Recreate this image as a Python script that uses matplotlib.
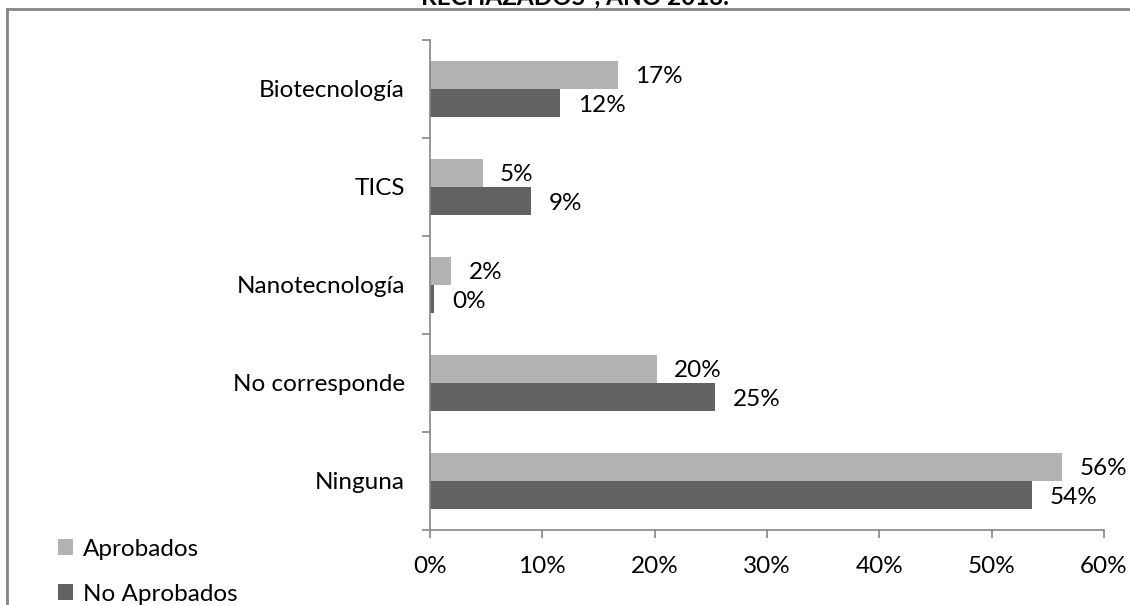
import numpy as np
import matplotlib.pyplot as plt
from matplotlib.lines import Line2D

plt.rcParams['font.family'] = ['Lato', 'DejaVu Sans']

categorias = ['Ninguna', 'No corresponde', 'Nanotecnología', 'TICS', 'Biotecnología']
aprobados = [56.3, 20.2, 1.9, 4.7, 16.7]
no_aprobados = [53.6, 25.4, 0.4, 9.0, 11.6]
xticks = [0, 10, 20, 30, 40, 50, 60]

c_apr = '#b3b3b3'
c_noapr = '#626262'
fs = 17.5

fig = plt.figure(figsize=(11.3, 6.05), dpi=100)
ax = fig.add_axes([0.3805, 0.124, 0.5965, 0.81])

y = np.arange(len(categorias))
h = 0.285
ax.barh(y + h / 2, aprobados, height=h, color=c_apr, label='Aprobados')
ax.barh(y - h / 2, no_aprobados, height=h, color=c_noapr, label='No Aprobados')

for yi, v in zip(y, aprobados):
    ax.annotate(f'{v:.0f}%', (v, yi + h / 2), xytext=(12.5, -1), textcoords='offset points',
                va='center', ha='left', fontsize=fs)
for yi, v in zip(y, no_aprobados):
    ax.annotate(f'{v:.0f}%', (v, yi - h / 2), xytext=(12.5, -2), textcoords='offset points',
                va='center', ha='left', fontsize=fs)

ax.set_xlim(0, 60)
ax.set_ylim(-0.5, len(categorias) - 0.5)
ax.set_xticks(xticks)
ax.set_xticklabels([f'{t}%' for t in xticks], fontsize=fs)
ax.set_yticks(y)
ax.set_yticklabels(categorias, fontsize=fs)
ax.set_yticks(np.arange(-0.5, len(categorias)), minor=True)
ax.tick_params(axis='y', which='major', length=0, pad=18)
ax.tick_params(axis='y', which='minor', length=6, color='#868686', width=1.2)
ax.tick_params(axis='x', length=6, color='#868686', width=1.2, pad=13)

for s in ['top', 'right']:
    ax.spines[s].set_visible(False)
for s in ['left', 'bottom']:
    ax.spines[s].set_color('#868686')
    ax.spines[s].set_linewidth(1.2)

# leyenda abajo a la izquierda
ax.legend(loc='lower left', bbox_to_anchor=(0.032, -0.036), bbox_transform=fig.transFigure,
          frameon=False, fontsize=fs, handlelength=0.62, handleheight=0.62,
          handletextpad=0.4, labelspacing=1.0)

# marco del gráfico
fig.add_artist(Line2D([7 / 1130, 7 / 1130], [0, 1 - 9 / 605], transform=fig.transFigure,
                      color='#868686', lw=2))
fig.add_artist(Line2D([7 / 1130, 1], [1 - 9 / 605, 1 - 9 / 605], transform=fig.transFigure,
                      color='#868686', lw=2))

fig.text(0.509, 1.008, 'RECHAZADOS", AÑO 2013.', ha='center', va='center',
         fontsize=17.5, fontweight='bold')

fig.savefig('out.png', dpi=100)
